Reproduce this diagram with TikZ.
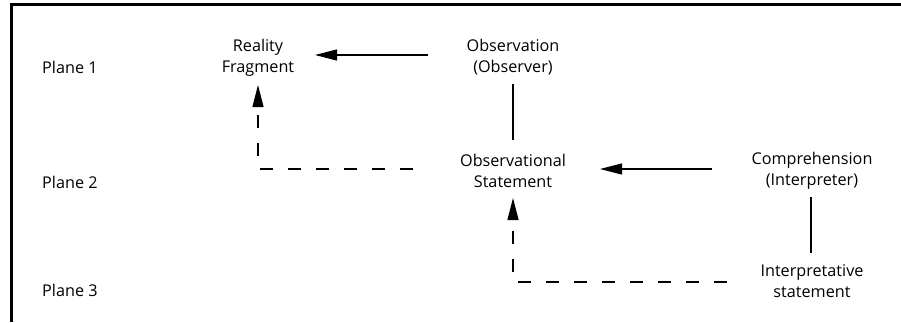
\documentclass[tikz,border=0pt]{standalone}
\usepackage{fontspec}
\setmainfont{Open Sans}
\usetikzlibrary{arrows.meta}
\begin{document}
\begin{tikzpicture}[x=1pt,y=-1pt,
  every node/.style={font=\fontsize{16.2}{21}\selectfont, inner sep=0pt, align=center},
  planelabel/.style={anchor=west},
  link/.style={line width=1.2pt},
  solidarrow/.style={link, -{Triangle[length=22pt,width=11pt]}},
  dasharrow/.style={link, dash pattern=on 13pt off 15pt, -{Triangle[length=22pt,width=11pt]}},
  frameline/.style={line width=3pt}]
  \useasboundingbox (0,0) rectangle (901,322);

  % frame along the top and left
  \draw[frameline] (11,322) -- (11,4.5) -- (901,4.5);

  % plane labels
  \node[planelabel] (p1) at (42,67)  {Plane 1};
  \node[planelabel] (p2) at (42,182) {Plane 2};
  \node[planelabel] (p3) at (42,290) {Plane 3};

  % concepts
  \node (rf)   at (258,57.5)  {Reality\\Fragment};
  \node (obs)  at (513,57.5)  {Observation\\(Observer)};
  \node (os)   at (513,170.5) {Observational\\Statement};
  \node (comp) at (812,170.5) {Comprehension\\(Interpreter)};
  \node (it)   at (812,281.5) {Interpretative\\statement};

  % solid connections (offsets taken from the node centres)
  \draw[solidarrow] ([xshift=-85pt,yshift=2.5pt]obs.center) -- ([xshift=57pt,yshift=2.5pt]rf.center);
  \draw[solidarrow] ([xshift=-100pt,yshift=1.5pt]comp.center) -- ([xshift=87pt,yshift=1.5pt]os.center);
  \draw[link] ([yshift=-26.5pt]obs.center) -- ([yshift=30.5pt]os.center);
  \draw[link] ([xshift=-1pt,yshift=-26.5pt]comp.center) -- ([xshift=-1pt,yshift=28.5pt]it.center);

  % dashed feedback connections
  \draw[dasharrow] ([xshift=-100pt,yshift=1.5pt]os.center) -| ([yshift=-27.5pt]rf.center);
  \draw[dasharrow] ([xshift=-85pt,yshift=-0.5pt]it.center) -| ([yshift=-27.5pt]os.center);
\end{tikzpicture}
\end{document}
